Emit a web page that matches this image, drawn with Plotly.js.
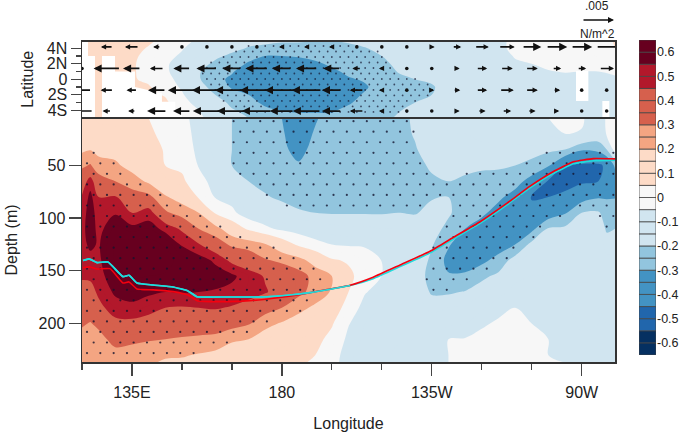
<!DOCTYPE html>
<html><head><meta charset="utf-8">
<script src="https://cdn.plot.ly/plotly-3.0.1.min.js"></script>
<style>html,body{margin:0;padding:0;background:#fff}#c{width:685px;height:436px}</style></head>
<body><div id="c"></div>
<script>
// ---------- lower panel: lon-depth section ----------
const depths=[5,20,35,50,65,80,95,110,125,140,155,170,185,200,215,230,237];
const sectionLons=[120,122.5,125,130,135,140,145,150,155,160,165,170,175,180,185,190,195,200,205,210,215,220,225,230,235,240,245,250,255,260,265,270,275,277.5,280];
const sectionCols=[
[.1,.13,.18,.28,.38,.46,.5,.52,.52,.5,.46,.42,.38,.31,.27,.24,.23],
[.11,.14,.195,.31,.5,.58,.6,.6,.57,.52,.47,.41,.35,.295,.26,.23,.22],
[.09,.12,.17,.24,.35,.45,.5,.52,.54,.53,.51,.47,.42,.32,.27,.22,.21],
[.08,.12,.16,.22,.3,.46,.54,.62,.66,.66,.62,.57,.5,.42,.33,.27,.25],
[.07,.09,.12,.16,.25,.35,.45,.58,.68,.7,.66,.6,.52,.42,.32,.26,.24],
[.05,.07,.1,.14,.18,.33,.5,.6,.68,.7,.65,.57,.49,.4,.31,.23,.21],
[0,.02,.04,.05,.12,.21,.32,.52,.64,.68,.64,.55,.45,.37,.3,.21,.19],
[-.02,-.01,0,.03,.07,.16,.25,.43,.54,.62,.62,.56,.44,.36,.29,.21,.18],
[-.09,-.08,-.07,-.055,-.02,.04,.2,.3,.46,.6,.62,.55,.45,.36,.28,.19,.16],
[-.12,-.12,-.11,-.1,-.08,-.055,.04,.24,.36,.53,.6,.54,.46,.36,.27,.17,.14],
[-.2,-.2,-.2,-.2,-.15,-.08,-.03,.13,.28,.42,.57,.52,.44,.34,.22,.12,.1],
[-.25,-.25,-.24,-.23,-.2,-.15,-.1,.03,.26,.37,.5,.49,.41,.31,.2,.12,.1],
[-.27,-.27,-.26,-.25,-.23,-.19,-.12,-.03,.21,.31,.44,.46,.35,.23,.15,.09,.07],
[-.3,-.29,-.28,-.27,-.25,-.22,-.15,-.07,.12,.28,.38,.4,.3,.19,.12,.08,.07],
[-.36,-.35,-.33,-.29,-.26,-.23,-.19,-.09,.03,.24,.34,.33,.23,.15,.1,.07,.06],
[-.31,-.29,-.27,-.26,-.25,-.23,-.2,-.11,-.02,.15,.27,.26,.18,.12,.08,.05,.04],
[-.26,-.25,-.25,-.25,-.24,-.23,-.205,-.13,-.05,.06,.2,.19,.12,.06,.02,-.01,-.02],
[-.24,-.24,-.24,-.24,-.23,-.22,-.205,-.14,-.06,.04,.07,.05,0,-.045,-.07,-.09,-.09],
[-.24,-.24,-.24,-.24,-.23,-.22,-.205,-.14,-.06,-.01,.01,-.045,-.08,-.1,-.11,-.12,-.12],
[-.23,-.23,-.23,-.23,-.23,-.22,-.205,-.15,-.09,-.052,-.052,-.08,-.1,-.11,-.12,-.12,-.12],
[-.22,-.22,-.22,-.22,-.22,-.21,-.2,-.15,-.12,-.1,-.1,-.11,-.12,-.12,-.11,-.08,-.07],
[-.19,-.195,-.205,-.22,-.22,-.22,-.205,-.16,-.14,-.13,-.14,-.14,-.13,-.12,-.1,-.06,-.05],
[-.16,-.16,-.17,-.19,-.21,-.205,-.18,-.17,-.19,-.22,-.24,-.21,-.16,-.13,-.09,-.06,-.06],
[-.15,-.15,-.16,-.18,-.2,-.2,-.19,-.22,-.29,-.33,-.29,-.21,-.15,-.11,-.05,-.05,-.05],
[-.14,-.15,-.16,-.185,-.21,-.22,-.24,-.3,-.36,-.36,-.28,-.195,-.14,-.1,-.045,-.03,-.03],
[-.13,-.14,-.16,-.19,-.22,-.25,-.28,-.35,-.38,-.33,-.22,-.16,-.11,-.06,-.03,-.02,-.02],
[-.13,-.14,-.16,-.19,-.23,-.28,-.34,-.39,-.36,-.26,-.18,-.12,-.07,-.04,-.03,-.03,-.03],
[-.12,-.13,-.16,-.2,-.26,-.34,-.39,-.38,-.3,-.16,-.12,-.08,-.05,-.04,-.04,-.04,-.04],
[-.11,-.12,-.16,-.23,-.34,-.46,-.41,-.33,-.17,-.13,-.1,-.08,-.06,-.05,-.04,-.04,-.04],
[-.05,-.09,-.18,-.29,-.46,-.45,-.37,-.19,-.15,-.12,-.1,-.09,-.08,-.06,-.05,-.05,-.05],
[-.03,-.05,-.2,-.45,-.5,-.42,-.31,-.18,-.14,-.12,-.1,-.09,-.09,-.08,-.06,-.055,-.05],
[-.04,-.055,-.29,-.47,-.47,-.35,-.2,-.17,-.16,-.14,-.14,-.13,-.12,-.11,-.09,-.07,-.06],
[-.1,-.13,-.27,-.47,-.45,-.31,-.19,-.15,-.12,-.11,-.11,-.11,-.1,-.1,-.09,-.08,-.08],
[-.04,-.04,-.2,-.43,-.4,-.31,-.24,-.21,-.17,-.14,-.12,-.12,-.11,-.1,-.1,-.09,-.09],
[-.03,.04,0,-.28,-.36,-.305,-.25,-.2,-.16,-.13,-.12,-.11,-.11,-.1,-.1,-.09,-.09]
];
const cyanLon=[120.3,122.1,124.5,127.8,132.3,134.1,136.5,141.3,147.3,151.8,154.5,163.5,173.5,182.5,188.5,194.5,200.5,207.4,215.5,224.5,231.4,239.5,247.6,254.5,261.4,267.5,273.5,280];
const cyanDepth=[140.3,138.7,142.2,141.6,155.5,154.2,161.5,163.4,165.3,169.1,174.5,174.8,174.8,172.9,170.7,167.4,163.9,157.4,146,133,120,105,87.4,71.3,57.7,48.5,45.6,45];
const redLon=[120.3,122.4,124.5,128.4,132.3,134.1,136.5,141.3,147.3,151.8,154.8,163.5,170.4,178.2,186.1,194.5,200.5,207.4,215.5,224.5,231.4,239.5,247.6,254.5,261.4,267.5,273.5,280];
const redDepth=[147,146.3,148.2,147.9,161.5,160.5,167.2,168.1,169.7,172.9,178.6,179.2,178.3,175.7,172.2,167.2,163.6,156,144.4,131.4,118.4,103.4,85.8,69.7,56,46.6,43.5,43.8];
// significance: [depth, [lonFrom,lonTo], ...]
const sectionSig=[
[8,[164,219]],[18,[164,220]],[28,[164,220]],[38,[120,124],[165,221],[258,280]],[48,[120,130],[165,223],[250,280]],
[58,[120,134],[167,225],[235,280]],[68,[120,138],[170,280]],[78,[120,145],[172,280]],[88,[120,151],[180,224],[231,280]],
[98,[120,156],[231,265],[275,280]],[108,[120,163],[228,261],[277,280]],[118,[120,169],[226,256]],[128,[120,178],[225,252]],
[138,[120,185],[224,248]],[148,[120,191],[222,243]],[158,[120,194],[222,239]],[168,[120,193],[223,233]],[178,[120,190]],
[188,[120,187]],[198,[120,179]],[208,[120,173]],[218,[120,166]],[228,[120,157]]];

// ---------- upper panel: lon-lat map ----------
const lats=[5,4,3,2,1,0,-1,-2,-3,-4,-5];
const mapLons=[120,135,140,145,150,155,160,165,170,175,180,185,190,195,200,205,210,215,220,225,230,240,245,250,255,260,265,270,275,280];
const mapCols=[
[.1,.1,.1,.1,.1,.1,.1,.1,.1,.1,.1],
[.1,.09,.07,.06,.06,.06,.08,.1,.1,.1,.1],
[.07,.04,.02,.02,.02,.03,.06,.08,.1,.1,.1],
[.02,0,-.03,-.04,-.04,-.03,-.01,.04,.07,.08,.09],
[-.03,-.045,-.06,-.08,-.08,-.07,-.06,-.04,-.02,.03,.05],
[-.06,-.08,-.1,-.14,-.19,-.19,-.16,-.12,-.08,-.05,-.04],
[-.08,-.1,-.17,-.23,-.26,-.27,-.24,-.2,-.14,-.09,-.07],
[-.1,-.16,-.23,-.26,-.29,-.32,-.31,-.27,-.23,-.19,-.14],
[-.16,-.21,-.27,-.31,-.36,-.38,-.34,-.3,-.27,-.23,-.2],
[-.18,-.22,-.3,-.35,-.39,-.41,-.39,-.36,-.32,-.28,-.25],
[-.19,-.23,-.3,-.36,-.4,-.42,-.41,-.38,-.34,-.305,-.27],
[-.19,-.23,-.29,-.35,-.39,-.42,-.41,-.38,-.34,-.31,-.28],
[-.2,-.23,-.27,-.32,-.37,-.4,-.4,-.37,-.34,-.31,-.28],
[-.2,-.22,-.25,-.28,-.32,-.36,-.38,-.37,-.34,-.31,-.28],
[-.19,-.22,-.24,-.26,-.28,-.31,-.34,-.33,-.31,-.28,-.26],
[-.17,-.205,-.23,-.25,-.27,-.29,-.31,-.29,-.27,-.25,-.24],
[-.15,-.17,-.2,-.22,-.24,-.25,-.26,-.25,-.24,-.23,-.22],
[-.13,-.15,-.17,-.18,-.195,-.22,-.24,-.23,-.22,-.205,-.19],
[-.12,-.13,-.14,-.16,-.18,-.2,-.22,-.22,-.2,-.18,-.16],
[-.11,-.12,-.13,-.14,-.16,-.185,-.21,-.2,-.17,-.15,-.14],
[-.1,-.11,-.12,-.13,-.14,-.15,-.16,-.15,-.14,-.13,-.12],
[-.09,-.09,-.1,-.11,-.12,-.13,-.13,-.13,-.12,-.12,-.11],
[-.06,-.06,-.08,-.1,-.11,-.12,-.12,-.12,-.12,-.11,-.11],
[-.04,-.04,-.045,-.06,-.1,-.11,-.12,-.12,-.12,-.11,-.11],
[-.03,-.03,-.04,-.05,-.08,-.1,-.11,-.11,-.11,-.1,-.1],
[-.03,-.02,-.02,-.03,-.055,-.09,-.1,-.1,-.1,-.1,-.09],
[-.02,-.02,-.01,-.02,-.045,-.08,-.09,-.09,-.09,-.09,-.09],
[-.02,-.02,0,-.02,-.05,-.07,-.09,-.09,-.09,-.09,-.08],
[-.01,-.01,0,-.01,-.05,-.07,-.09,-.08,-.08,-.08,-.08],
[.06,.05,.01,.01,-.04,-.06,-.07,-.07,-.07,-.07,-.07]
];
// cells with no data (drawn white), separated by nulls
const noDataLon=[120,121.8,121.8,123.9,123.9,120,120,null,126,129.9,129.9,135.9,135.9,144,144,148,148,150,150,126,126,null,268.3,272,272,268.3,268.3,null,276.2,278.3,278.3,276.2,276.2];
const noDataLat=[5,5,3,3,-5,-5,5,null,3,3,1,1,-1,-1.8,-2.9,-2.9,-4,-4,-5,-5,3,null,1.07,1.07,-2.8,-2.8,1.07,null,-2.8,-2.8,-5,-5,-2.8];
// [lat, lonFrom, lonTo]
const mapSig=[[4.3,170,203],[3.59,164,209],[2.88,161,210],[2.17,158,212],[1.46,156,213],[.75,156,216],[.04,156,221],[-.67,157,226],[-1.38,158,227],[-2.09,160,225],[-2.8,162,220],[-3.51,164,218],[-4.22,167,218]];
// wind stress, zonal component, in 10^-3 N/m^2
const windLons=[120,127.5,135,142.5,150,157.5,165,172.5,180,187.5,195,202.5,210,217.5,225,232.5,240,247.5,255,262.5,270,277.5];
const windLat=[4.18,1.4,-1.4,-4.1];
const windN4=[null,-1.9,-2.2,-1.2,-.2,-.2,-.2,-.2,-.9,-.9,-.9,-.2,-.2,-.2,.9,1.4,2.2,2.5,3,3.3,3.3,2.8];
const windN1=[-.3,-4.2,-2.8,-2.2,-2.7,-3.3,-3,-3.6,-3.1,-3.4,-2.7,-1.4,-.9,.2,.2,.9,1.7,1.9,1.9,1.4,1.4,2.3];
const windS1=[-2.5,-2,-1.7,-2.8,-4.4,-4.7,-5.3,-5.3,-5.3,-4.7,-3.1,-2.2,-.9,.2,.8,1.1,1.7,2.2,1.9,1.1,.2,.2];
const windS4=[-3,-1.4,-1.2,-3.1,-2.8,-4.4,-4.7,-4.7,-3.8,-4.4,-3.1,-2.2,-.9,.2,.2,.9,1.2,1.4,1.2,.8,.2,.2];
const refWind=5; // reference vector, 10^-3 N/m^2
const refLonSpan=9.6; // degrees of longitude drawn per reference vector

// ---------- colour key ----------
const keyLevels=[-.65,-.6,-.55,-.5,-.45,-.4,-.35,-.3,-.25,-.2,-.15,-.1,-.05,0,.05,.1,.15,.2,.25,.3,.35,.4,.45,.5,.55,.6];
const keyColors=['#053061','#053061','#2166ac','#2166ac','#4393c3','#4393c3','#4393c3','#92c5de','#92c5de','#d1e5f0','#d1e5f0','#d1e5f0','#f7f7f7','#f7f7f7','#fddbc7','#fddbc7','#fddbc7','#f4a582','#f4a582','#d6604d','#d6604d','#d6604d','#b2182b','#b2182b','#67001f','#67001f'];
const keyTicks=[-.6,-.5,-.4,-.3,-.2,-.1,0,.1,.2,.3,.4,.5,.6];
const keyLabels=['-0.6','-0.5','-0.4','-0.3','-0.2','-0.1','0','0.1','0.2','0.3','0.4','0.5','0.6'];
const lonTicks=[135,180,225,270], lonLabels=['135E','180','135W','90W'], lonMinor=[120,150,165,195,210,240,255];
const latTicks=[4,2,0,-2,-4], latLabels=['4N','2N','0','2S','4S'], latMinor=[5,3,1,-1,-3,-5];
const depthTicks=[50,100,150,200];

// ---------- build ----------
const transpose=c=>c[0].map((_,i)=>c.map(r=>r[i]));
// a filled band takes the colour at its mid value, which sits at (i+1)/27 of the scale
const colorscale=[[0,keyColors[0]]];
keyColors.forEach((c,i)=>{colorscale.push([(i+.5)/27,c],[(i+1.5)/27,c]);});
colorscale.push([1,keyColors[25]]);
const contourBase={type:'contour',colorscale,zauto:false,zmin:-.65,zmax:.65,autocontour:false,showscale:false,hoverinfo:'skip',
  contours:{coloring:'fill',showlines:false,start:-.65,end:.65,size:.05},line:{width:0}};
const sx=[],sy=[];
sectionSig.forEach((row,i)=>{const d=row[0],off=i%2?3.5:1.5;
  for(let lon=120+off;lon<=280;lon+=4){for(let r=1;r<row.length;r++){if(lon>=row[r][0]&&lon<=row[r][1]){sx.push(lon);sy.push(d);}}}});
const mx=[],my=[];
mapSig.forEach((row,i)=>{const off=i%2?1.25:0;
  for(let lon=120+off;lon<=280;lon+=2.5){if(lon>=row[1]&&lon<=row[2]){mx.push(lon);my.push(row[0]);}}});

const annotations=[], tinyX=[], tinyY=[], cutX=[], cutY=[];
[windN4,windN1,windS1,windS4].forEach((row,j)=>{row.forEach((u,k)=>{
  if(u===null)return;
  const lat=windLat[j],c=windLons[k];
  if(Math.abs(u)<=.3){tinyX.push(c);tinyY.push(lat);return;}
  const half=u/refWind*refLonSpan/2, head=c+half, tail=c-half;
  if(head<120||head>280){cutX.push(tail,head,null);cutY.push(lat,lat,null);return;}
  const big=Math.abs(u)>2.5;
  annotations.push({xref:'x2',yref:'y2',axref:'x2',ayref:'y2',x:head,y:lat,ax:tail,ay:lat,text:'',showarrow:true,
    arrowhead:2,arrowsize:big?.9:.65,arrowwidth:big?1.8:1.6,arrowcolor:'#111',standoff:0});
});});
const textFont={family:'Liberation Sans, Arial, sans-serif',color:'#222',size:12};
annotations.push(
 {xref:'paper',yref:'paper',x:614/685,y:1-20/436,ax:-32,ay:0,text:'',showarrow:true,arrowhead:2,arrowsize:.75,arrowwidth:1.6,arrowcolor:'#111'},
 {xref:'paper',yref:'paper',x:597/685,y:1-6/436,text:'.005',showarrow:false,font:textFont,xanchor:'center',yanchor:'middle'},
 {xref:'paper',yref:'paper',x:597/685,y:1-34/436,text:'N/m^2',showarrow:false,font:textFont,xanchor:'center',yanchor:'middle'}
);

const traces=[
 Object.assign({},contourBase,{x:sectionLons,y:depths,z:transpose(sectionCols),xaxis:'x',yaxis:'y'}),
 Object.assign({},contourBase,{x:mapLons,y:lats,z:transpose(mapCols),xaxis:'x2',yaxis:'y2'}),
 {type:'scatter',mode:'lines',x:noDataLon,y:noDataLat,xaxis:'x2',yaxis:'y2',fill:'toself',fillcolor:'#fff',line:{width:0,color:'#fff'},hoverinfo:'skip'},
 {type:'scatter',mode:'markers',x:sx,y:sy,xaxis:'x',yaxis:'y',marker:{color:'#14142e',size:2.2,opacity:.8},hoverinfo:'skip'},
 {type:'scatter',mode:'markers',x:mx,y:my,xaxis:'x2',yaxis:'y2',marker:{color:'#14142e',size:1.8,opacity:.7},hoverinfo:'skip'},
 {type:'scatter',mode:'lines',x:cyanLon,y:cyanDepth,xaxis:'x',yaxis:'y',line:{color:'#1fdcdc',width:1.6,shape:'spline',smoothing:.4},hoverinfo:'skip'},
 {type:'scatter',mode:'lines',x:redLon,y:redDepth,xaxis:'x',yaxis:'y',line:{color:'#f5000f',width:1.6,shape:'spline',smoothing:.4},hoverinfo:'skip'},
 {type:'scatter',mode:'lines',x:cyanLon.slice(0,17),y:cyanDepth.slice(0,17),xaxis:'x',yaxis:'y',line:{color:'#1fdcdc',width:1.6,shape:'spline',smoothing:.4},hoverinfo:'skip'},
 {type:'scatter',mode:'markers',x:tinyX,y:tinyY,xaxis:'x2',yaxis:'y2',marker:{color:'#111',size:3.6},hoverinfo:'skip'},
 {type:'scatter',mode:'lines',x:cutX,y:cutY,xaxis:'x2',yaxis:'y2',line:{color:'#111',width:1.6},hoverinfo:'skip'},
 {type:'bar',x:keyLevels.map(()=>0),y:keyLevels.map(()=>.05),base:keyLevels,width:1,xaxis:'x3',yaxis:'y3',
  marker:{color:keyColors,line:{color:'#444',width:.8}},hoverinfo:'skip'}
];
const frame={showline:true,linecolor:'#333',linewidth:1.5,mirror:true,zeroline:false,showgrid:false};
const labelFont={family:'Liberation Sans, Arial, sans-serif',color:'#222',size:16};
const layout={
 width:685,height:436,margin:{l:0,r:0,t:0,b:0},paper_bgcolor:'#fff',plot_bgcolor:'#fff',showlegend:false,barmode:'overlay',font:labelFont,
 annotations,
 xaxis:Object.assign({},frame,{domain:[82/685,615/685],range:[120,280],anchor:'y',tickmode:'array',tickvals:lonTicks,ticktext:lonLabels,ticks:'outside',ticklen:12,tickwidth:1.3,tickcolor:'#444',
  ticklabelstandoff:3,tickfont:labelFont,minor:{tickmode:'array',tickvals:lonMinor,ticks:'outside',ticklen:6.5,tickwidth:1.2,tickcolor:'#444'},title:{text:'Longitude',font:labelFont,standoff:18}}),
 yaxis:Object.assign({},frame,{domain:[1-362/436,1-118/436],range:[236.5,5],anchor:'x',tickmode:'array',tickvals:depthTicks,ticks:'outside',ticklen:12,tickwidth:1.3,tickcolor:'#444',
  tickfont:labelFont,title:{text:'Depth (m)',font:labelFont,standoff:17}}),
 xaxis2:Object.assign({},frame,{domain:[82/685,615/685],range:[120,280],anchor:'y2',showticklabels:false,ticks:''}),
 yaxis2:Object.assign({},frame,{domain:[1-117/436,1-41.5/436],range:[-4.87,4.88],anchor:'x2',tickmode:'array',tickvals:latTicks,ticktext:latLabels,ticks:'outside',ticklen:10,tickwidth:1.3,tickcolor:'#444',
  tickfont:labelFont,minor:{tickmode:'array',tickvals:latMinor,ticks:'outside',ticklen:5,tickwidth:1.2,tickcolor:'#444'},title:{text:'Latitude',font:labelFont,standoff:9}}),
 xaxis3:{domain:[639/685,656/685],range:[-.5,.5],anchor:'y3',showticklabels:false,ticks:'',showgrid:false,zeroline:false,showline:false},
 yaxis3:{domain:[1-355/436,1-40/436],range:[-.65,.65],anchor:'x3',side:'right',tickmode:'array',tickvals:keyTicks,ticktext:keyLabels,ticks:'',showgrid:false,zeroline:false,showline:false,
  tickfont:{family:'Liberation Sans, Arial, sans-serif',color:'#222',size:12.5}}
};
Plotly.newPlot('c',traces,layout,{staticPlot:true,displayModeBar:false});
</script></body></html>
